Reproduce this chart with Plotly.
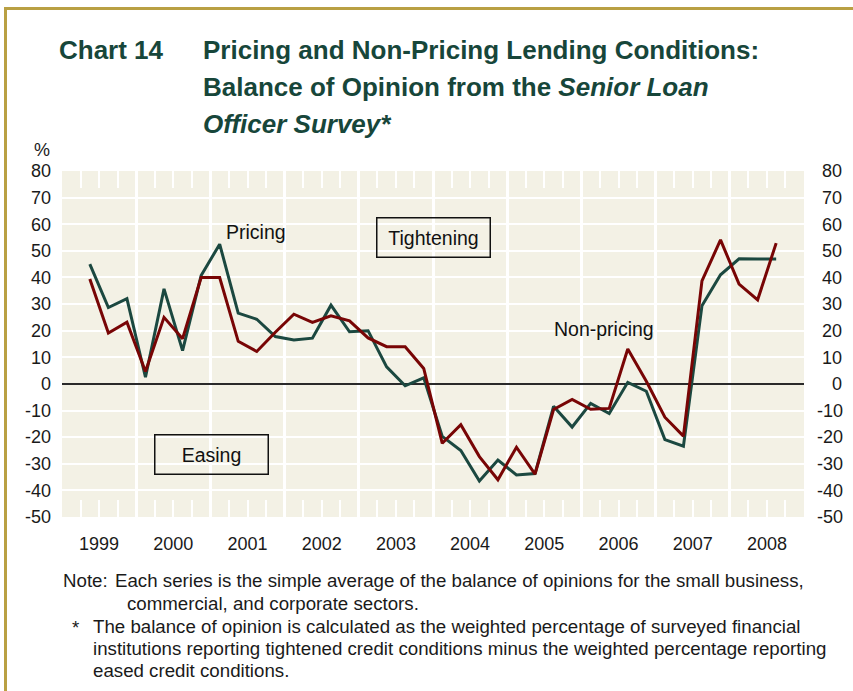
import plotly.graph_objects as go

# ---------------- data ----------------
periods = ["1999Q2", "1999Q3", "1999Q4",
           "2000Q1", "2000Q2", "2000Q3", "2000Q4",
           "2001Q1", "2001Q2", "2001Q3", "2001Q4",
           "2002Q1", "2002Q2", "2002Q3", "2002Q4",
           "2003Q1", "2003Q2", "2003Q3", "2003Q4",
           "2004Q1", "2004Q2", "2004Q3", "2004Q4",
           "2005Q1", "2005Q2", "2005Q3", "2005Q4",
           "2006Q1", "2006Q2", "2006Q3", "2006Q4",
           "2007Q1", "2007Q2", "2007Q3", "2007Q4",
           "2008Q1", "2008Q2", "2008Q3"]
pricing = [45, 28.7, 32,
           2.5, 35.7, 12.5, 40.7,
           52.5, 26.6, 24.3, 17.8,
           16.5, 17.2, 29.6, 19.6,
           20, 6.4, -0.7, 2.3,
           -19.7, -25, -36.5, -28.6,
           -34.2, -33.7, -8.4, -16.2,
           -7.3, -11.1, 0.6, -2.75,
           -20.9, -23.4, 29.4, 41,
           47, 46.9, 46.9]
non_pricing = [39.4, 19.1, 23.2,
               4.7, 25, 17, 40,
               40, 16, 12.2, 19.4,
               26.2, 23.1, 25.6, 23.7,
               17.3, 14, 14, 5.8,
               -22.3, -15.3, -27.3, -36,
               -23.8, -33.9, -9.6, -5.8,
               -9.5, -9.2, 13.1, 1,
               -12.5, -19.6, 38.7, 54.1,
               37.5, 31.6, 52.9]
years = list(range(1999, 2009))
year_labels = [str(y) for y in years]
y_ticks = list(range(-50, 81, 10))
y_labels = [str(v) for v in y_ticks]

title_num = "Chart 14"
title_lines = ["Pricing and Non-Pricing Lending Conditions:",
               "Balance of Opinion from the <i>Senior Loan</i>",
               "<i>Officer Survey*</i>"]
note_label = "Note:"
note_lines = ["Each series is the simple average of the balance of opinions for the small business,",
              "commercial, and corporate sectors."]
star_lines = ["The balance of opinion is calculated as the weighted percentage of surveyed financial",
              "institutions reporting tightened credit conditions minus the weighted percentage reporting",
              "eased credit conditions."]

# ---------------- helpers ----------------
def to_decimal(p):
    y, q = p.split("Q")
    return int(y) + (int(q) - 0.5) / 4.0

xq = [to_decimal(p) for p in periods]

def right_pad(label):
    # pad right-axis labels so they appear right-aligned like the reference
    if label.startswith("-"):
        return label
    if len(label) == 1:
        return "\u2007\u00a0" + label
    return "\u00a0" + label

y_labels_right = [right_pad(s) for s in y_labels]

W, H = 853, 691
ML, MR, MT, MB = 62, 49, 171, 174
PW, PH = W - ML - MR, H - MT - MB

def px(xp):
    return (xp - ML) / PW

def py(yp):
    return (H - MB - yp) / PH

FONT = "Liberation Sans, Arial, sans-serif"
GREEN = "#1b4840"
RED = "#780505"
TITLE_C = "#17463a"
GOLD = "#b9a043"
TXT = "#1a1a1a"

quarter_ticks = [y + q / 4 for y in years for q in (1, 2, 3)]
year_bounds = [y for y in years[1:]]

fig = go.Figure()
fig.add_trace(go.Scatter(x=xq, y=pricing, mode="lines", name="Pricing",
                         line=dict(color=GREEN, width=3)))
fig.add_trace(go.Scatter(x=xq, y=non_pricing, mode="lines", name="Non-pricing",
                         line=dict(color=RED, width=3)))
# helper traces so overlay axes are drawn
fig.add_trace(go.Scatter(x=[years[0], years[-1] + 1], y=[None, None], xaxis="x2",
                         showlegend=False, hoverinfo="skip"))
fig.add_trace(go.Scatter(x=[years[0], years[-1] + 1], y=[None, None], yaxis="y2",
                         showlegend=False, hoverinfo="skip"))

fig.update_layout(
    width=W, height=H, autosize=False,
    margin=dict(l=ML, r=MR, t=MT, b=MB),
    paper_bgcolor="white", plot_bgcolor="#f3f1e5",
    showlegend=False,
    font=dict(family=FONT, size=18, color=TXT),
    xaxis=dict(range=[years[0], years[-1] + 1], tickmode="array",
               tickvals=[y + 0.5 for y in years], ticktext=year_labels,
               ticks="", showgrid=False, zeroline=False, showline=False,
               automargin=False,
               ticklabelstandoff=14, tickfont=dict(size=18, color=TXT),
               minor=dict(tickmode="array", tickvals=quarter_ticks, ticks="inside",
                          ticklen=17, tickwidth=2, tickcolor="white", showgrid=False)),
    xaxis2=dict(range=[years[0], years[-1] + 1], overlaying="x", side="top",
                tickmode="array", tickvals=year_bounds, showticklabels=False,
                ticks="", showgrid=True, gridcolor="white", gridwidth=2.5,
                zeroline=False, showline=False, automargin=False,
                minor=dict(tickmode="array", tickvals=quarter_ticks, ticks="inside",
                           ticklen=17, tickwidth=2, tickcolor="white", showgrid=False)),
    yaxis=dict(range=[-50, 80], tickmode="array", tickvals=y_ticks, ticktext=y_labels,
               showgrid=True, gridcolor="white", gridwidth=2,
               zeroline=True, zerolinecolor="#2a2a2a", zerolinewidth=1.6,
               showline=False, ticks="", ticklabelstandoff=10, automargin=False,
               tickfont=dict(size=18, color=TXT)),
    yaxis2=dict(range=[-50, 80], overlaying="y", side="right", tickmode="array",
                tickvals=y_ticks, ticktext=y_labels_right,
                showgrid=False, zeroline=False, showline=False, automargin=False,
                ticks="", ticklabelstandoff=12, tickfont=dict(size=18, color=TXT)),
)

ann = []
def paper_text(text, xp, yp, size, color=TXT, bold=False, xanchor="left"):
    t = f"<b>{text}</b>" if bold else text
    ann.append(dict(text=t, x=px(xp), y=py(yp), xref="paper", yref="paper",
                    xanchor=xanchor, yanchor="middle", showarrow=False,
                    font=dict(family=FONT, size=size, color=color)))

paper_text(title_num, 57, 50, 26, TITLE_C, bold=True)
for i, line in enumerate(title_lines):
    paper_text(line, 201, 50 + i * 37, 26, TITLE_C, bold=True)
paper_text("%", 32, 150, 18)
NOTE_SIZE = 18.7
paper_text(note_label, 110, 580, NOTE_SIZE, xanchor="right")
paper_text(note_lines[0], 113, 580, NOTE_SIZE)
paper_text(note_lines[1], 125, 603, NOTE_SIZE)
paper_text("*", 70, 627, NOTE_SIZE)
for i, line in enumerate(star_lines):
    paper_text(line, 91, 626 + i * 22, NOTE_SIZE)

# chart annotations in data coordinates
LBL = 19.5
ann.append(dict(text="Pricing", x=2001.62, y=57, xref="x", yref="y", showarrow=False,
                font=dict(family=FONT, size=LBL, color="#111")))
ann.append(dict(text="Non-pricing", x=2006.3, y=20.5, xref="x", yref="y", showarrow=False,
                font=dict(family=FONT, size=LBL, color="#111")))
ann.append(dict(text="Tightening", x=2004.0, y=55, xref="x", yref="y", showarrow=False,
                width=110, height=36, borderpad=1, bordercolor="#111", borderwidth=1.5,
                font=dict(family=FONT, size=LBL, color="#111")))
ann.append(dict(text="Easing", x=2001.01, y=-26.6, xref="x", yref="y", showarrow=False,
                width=110, height=36, borderpad=1, bordercolor="#111", borderwidth=1.5,
                font=dict(family=FONT, size=LBL, color="#111")))
fig.update_layout(annotations=ann)

# gold frame on top and left
fig.add_shape(type="line", xref="paper", yref="paper", x0=px(5.5), x1=px(W + 5), y0=py(8.5), y1=py(8.5),
              line=dict(color=GOLD, width=3))
fig.add_shape(type="line", xref="paper", yref="paper", x0=px(5.5), x1=px(5.5), y0=py(7), y1=py(H + 5),
              line=dict(color=GOLD, width=3))

fig.write_html("out.html", config={"displayModeBar": False},
               post_script="document.body.style.margin='0';document.body.style.overflow='hidden';")
